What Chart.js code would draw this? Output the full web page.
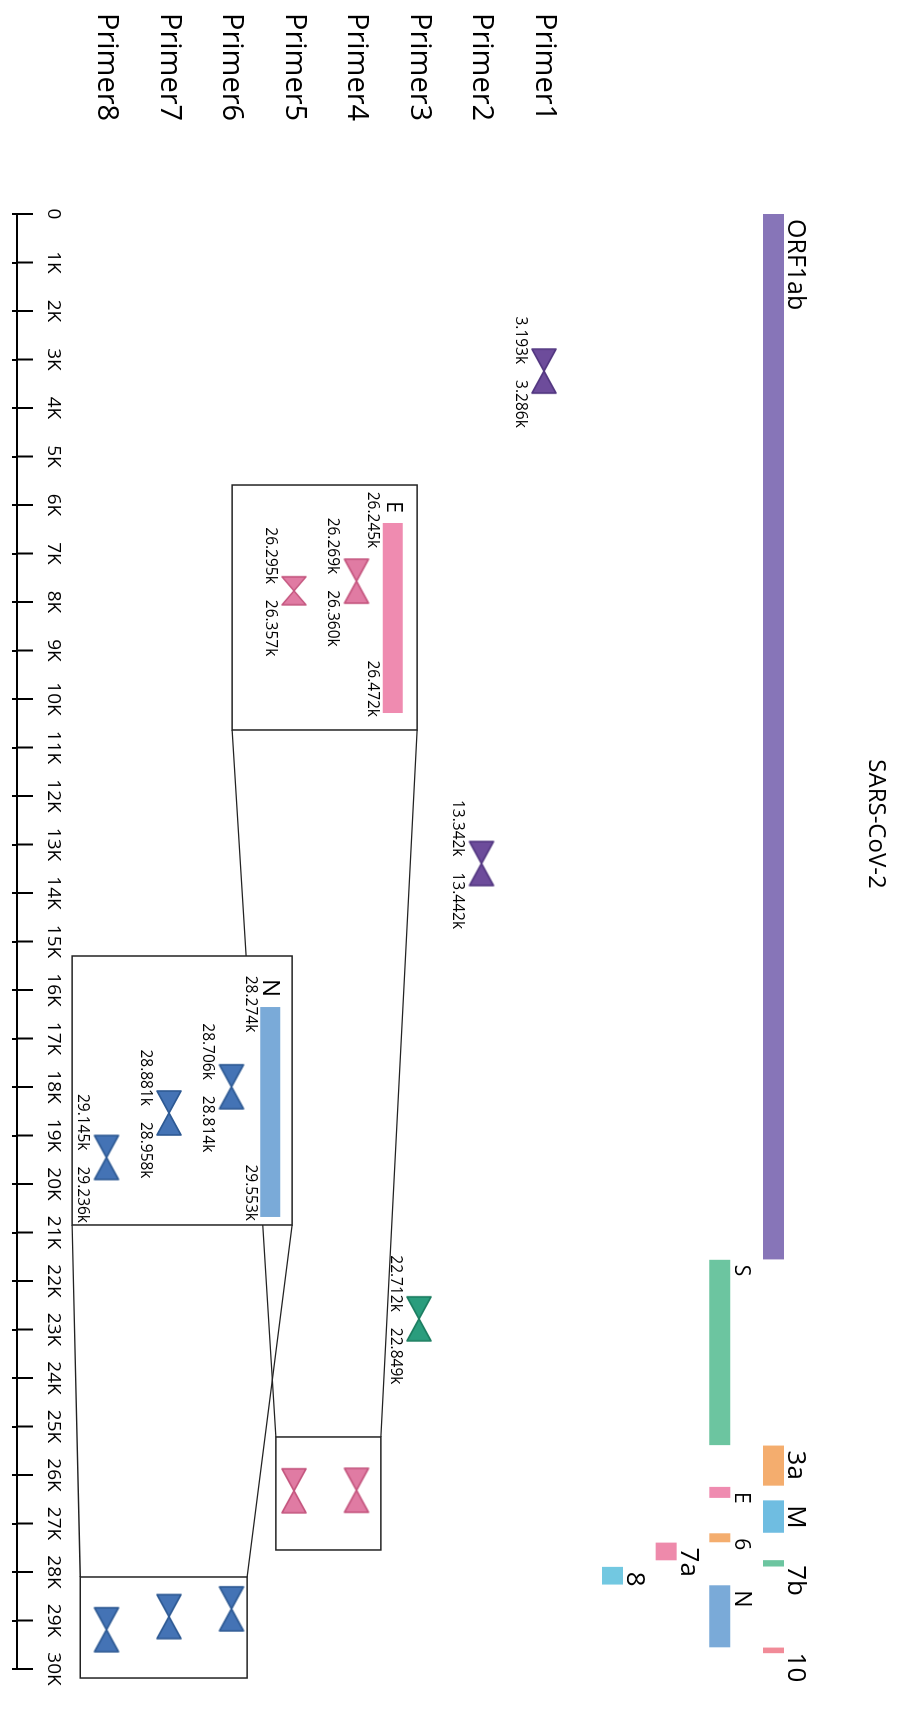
<!DOCTYPE html>
<html>
<head>
<meta charset="utf-8">
<title>SARS-CoV-2 primers</title>
<script src="https://cdn.jsdelivr.net/npm/chart.js@4.4.1/dist/chart.umd.min.js"></script>
<style>
  html, body { margin: 0; padding: 0; background: #fff; overflow: hidden; }
  /* the chart is drawn landscape and turned a quarter clockwise */
  #wrap { position: absolute; left: 0; top: 0; width: 1709px; height: 898px;
          transform-origin: 0 0; transform: translateX(898px) rotate(90deg); }
</style>
</head>
<body>
<div id="wrap"><canvas id="genome" width="1709" height="898"></canvas></div>
<script>
const chartTitle = "SARS-CoV-2";

// genome axis
const axisMin = 0;
const axisMax = 30000;
const tickStep = 1000;

// genes
const geneNames = ["ORF1ab", "S", "3a", "E", "M", "6", "7a", "7b", "8", "N", "10"];
const geneStart = [0, 21563, 25393, 26245, 26523, 27202, 27394, 27756, 27894, 28274, 29558];
const geneEnd   = [21555, 25384, 26220, 26472, 27191, 27387, 27759, 27887, 28259, 29553, 29674];
const geneLane  = [0, 1, 0, 1, 0, 1, 2, 0, 3, 1, 0];

// primers
const primerNames  = ["Primer1", "Primer2", "Primer3", "Primer4", "Primer5", "Primer6", "Primer7", "Primer8"];
const primerFwd    = [3193, 13342, 22712, 26269, 26295, 28706, 28881, 29145];
const primerRev    = [3286, 13442, 22849, 26360, 26357, 28814, 28958, 29236];
const primerTarget = ["ORF1ab", "ORF1ab", "S", "E", "E", "N", "N", "N"];

// genes blown up in a box
const insetGenes = ["E", "N"];

// ---- styles and layout ----
const FONT = "'Open Sans', 'DejaVu Sans', sans-serif";
const geneColors = ["#8775b8", "#6cc5a0", "#f4ad6e", "#ef8bb0", "#6fbde1", "#f4ad6e",
                    "#ee8aab", "#6cc5a0", "#72c8e1", "#7aaad8", "#f18b98"];
const geneFont = [25, 21, 26, 21, 26, 21, 26, 26, 26, 23, 26];
const markerFill = { ORF1ab: "#6d4c9b", S: "#2a9d7d", E: "#e07ba3", N: "#4473b5" };
const markerEdge = { ORF1ab: "#523680", S: "#1b7d60", E: "#c4557e", N: "#2d5993" };
const insetMarkerW = { Primer5: 28 };

// box = [from, to] on the genome axis and [top, bottom] in primer rows
const insetLayout = {
  E: { box: [5588, 10639, 3.03, 5.99], zoom: [25216, 27546, 3.61, 5.29], anchor: [6371, 10289], row: 3.42, font: 21 },
  N: { box: [15299, 20845, 5.03, 8.55], zoom: [28103, 30186, 5.75, 8.42], anchor: [16351, 20680], row: 5.38, font: 24 }
};

function kLabel(v) {
  return (v / 1000).toFixed(3) + "k";
}

function bowtie(fill, edge, w, h) {
  const c = document.createElement("canvas");
  c.width = w + 4;
  c.height = h + 4;
  const g = c.getContext("2d");
  const cx = c.width / 2, cy = c.height / 2;
  g.fillStyle = fill;
  g.strokeStyle = edge;
  g.lineWidth = 1.6;
  g.lineJoin = "round";
  [[2, 2 + h], [2 + w, 2 + h]].forEach(([bx, by]) => {
    g.beginPath();
    g.moveTo(bx, 2);
    g.lineTo(bx, by);
    g.lineTo(cx, cy);
    g.closePath();
    g.fill();
    g.stroke();
  });
  return c;
}

// inset axis range so that the gene span lands on its anchor positions
function insetRange(g0, g1, a0, a1) {
  const k = (a1 - a0) / (g1 - g0);
  return { min: g0 - (a0 - axisMin) / k, max: g0 + (axisMax - a0) / k };
}

function noPadding(s) {
  s.paddingTop = 0;
  s.paddingBottom = 0;
  s.paddingLeft = 0;
  s.paddingRight = 0;
}

const datasets = [];

// gene bars
geneNames.forEach((g, i) => {
  datasets.push({
    label: g,
    showLine: true,
    clip: false,
    data: [{ x: geneStart[i], y: geneLane[i] }, { x: geneEnd[i], y: geneLane[i] }],
    borderColor: geneColors[i],
    borderWidth: 21,
    borderCapStyle: "butt",
    pointRadius: 0,
    xAxisID: "x",
    yAxisID: "yGene"
  });
});

// primer pairs on the genome axis
datasets.push({
  label: "primers",
  clip: false,
  data: primerNames.map((p, i) => ({ x: (primerFwd[i] + primerRev[i]) / 2, y: i + 1 })),
  pointStyle: primerTarget.map(t => bowtie(markerFill[t], markerEdge[t], 44, 24)),
  pointRadius: 10,
  xAxisID: "x",
  yAxisID: "y"
});

const scales = {
  x: {
    type: "linear",
    position: "bottom",
    min: axisMin,
    max: axisMax,
    afterFit: s => { s.height = 17; noPadding(s); },
    afterBuildTicks: s => {
      s.ticks = [];
      for (let v = axisMin; v <= axisMax; v += tickStep) s.ticks.push({ value: v });
    },
    ticks: {
      mirror: true,
      padding: 25,
      color: "#000",
      maxRotation: 0,
      autoSkip: false,
      font: { family: FONT, size: 19 },
      callback: v => (v === 0 ? "0" : v / 1000 + "K")
    },
    grid: { display: true, drawOnChartArea: false, drawTicks: true, tickLength: 5, color: "#000", lineWidth: 2 },
    border: { display: true, color: "#000", width: 2 }
  },
  y: {
    type: "linear",
    position: "left",
    reverse: true,
    min: -4.664,
    max: 9.432,
    afterFit: s => { s.width = 201; noPadding(s); },
    afterBuildTicks: s => { s.ticks = primerNames.map((n, i) => ({ value: i + 1 })); },
    ticks: {
      crossAlign: "far",
      padding: 0,
      color: "#000",
      font: { family: FONT, size: 29 },
      callback: v => primerNames[v - 1]
    },
    grid: { display: false },
    border: { display: false }
  },
  yGene: { type: "linear", display: false, reverse: true, min: -2.32, max: 14.096 }
};

// inset bars and markers, each on its own hidden genome axis
insetGenes.forEach(g => {
  const gi = geneNames.indexOf(g);
  const L = insetLayout[g];
  const r = insetRange(geneStart[gi], geneEnd[gi], L.anchor[0], L.anchor[1]);
  scales["x" + g] = { type: "linear", display: false, min: r.min, max: r.max };

  datasets.push({
    label: g + " inset",
    showLine: true,
    clip: false,
    data: [{ x: geneStart[gi], y: L.row }, { x: geneEnd[gi], y: L.row }],
    borderColor: geneColors[gi],
    borderWidth: 20,
    borderCapStyle: "butt",
    pointRadius: 0,
    xAxisID: "x" + g,
    yAxisID: "y"
  });

  const idx = primerTarget.map((t, i) => (t === g ? i : -1)).filter(i => i >= 0);
  datasets.push({
    label: g + " primers",
    clip: false,
    data: idx.map(i => ({ x: (primerFwd[i] + primerRev[i]) / 2, y: i + 1 })),
    pointStyle: idx.map(i => bowtie(markerFill[g], markerEdge[g], insetMarkerW[primerNames[i]] || 44, 24)),
    pointRadius: 10,
    xAxisID: "x" + g,
    yAxisID: "y"
  });
});

function drawPairLabels(ctx, xs, y, i) {
  const px = xs.getPixelForValue((primerFwd[i] + primerRev[i]) / 2);
  const py = y.getPixelForValue(i + 1) + 24;
  ctx.textAlign = "right";
  ctx.fillText(kLabel(primerFwd[i]), px - 7, py);
  ctx.textAlign = "left";
  ctx.fillText(kLabel(primerRev[i]), px + 9, py);
}

const annotations = {
  id: "annotations",
  beforeDatasetsDraw(chart) {
    const { ctx, scales: { x, y } } = chart;
    ctx.save();
    ctx.strokeStyle = "#222";
    ctx.lineWidth = 1.5;
    // connector lines from each box to the region it blows up
    insetGenes.forEach(g => {
      const L = insetLayout[g];
      const bx = x.getPixelForValue(L.box[1]);
      const zx = x.getPixelForValue(L.zoom[0]);
      [[L.box[2], L.zoom[2]], [L.box[3], L.zoom[3]]].forEach(([a, b]) => {
        ctx.beginPath();
        ctx.moveTo(bx, y.getPixelForValue(a));
        ctx.lineTo(zx, y.getPixelForValue(b));
        ctx.stroke();
      });
    });
    insetGenes.forEach(g => {
      [insetLayout[g].box, insetLayout[g].zoom].forEach(r => {
        const x0 = x.getPixelForValue(r[0]), x1 = x.getPixelForValue(r[1]);
        const y0 = y.getPixelForValue(r[2]), y1 = y.getPixelForValue(r[3]);
        ctx.fillStyle = "#fff";
        ctx.fillRect(x0, y0, x1 - x0, y1 - y0);
        ctx.strokeRect(x0, y0, x1 - x0, y1 - y0);
      });
    });
    ctx.restore();
  },
  afterDatasetsDraw(chart) {
    const { ctx, scales } = chart;
    const x = scales.x, y = scales.y, yg = scales.yGene;
    ctx.save();
    ctx.fillStyle = "#000";

    ctx.font = "24px " + FONT;
    ctx.textAlign = "center";
    ctx.textBaseline = "middle";
    ctx.fillText(chartTitle, 824, 22);

    // tick marks also reach up from the axis line
    ctx.strokeStyle = "#000";
    ctx.lineWidth = 2;
    x.ticks.forEach(t => {
      const px = x.getPixelForValue(t.value);
      ctx.beginPath();
      ctx.moveTo(px, x.top);
      ctx.lineTo(px, x.top - 16);
      ctx.stroke();
    });

    // gene names above their bars
    ctx.textAlign = "left";
    ctx.textBaseline = "alphabetic";
    geneNames.forEach((g, i) => {
      ctx.font = geneFont[i] + "px " + FONT;
      ctx.fillText(g, x.getPixelForValue(geneStart[i]) + 5, yg.getPixelForValue(geneLane[i]) - 15);
    });

    // positions of primers outside the boxes
    ctx.font = "15.5px " + FONT;
    ctx.textBaseline = "middle";
    primerNames.forEach((p, i) => {
      if (!insetGenes.includes(primerTarget[i])) drawPairLabels(ctx, x, y, i);
    });

    // box contents
    insetGenes.forEach(g => {
      const gi = geneNames.indexOf(g);
      const L = insetLayout[g];
      const xs = scales["x" + g];
      const s = xs.getPixelForValue(geneStart[gi]);
      const e = xs.getPixelForValue(geneEnd[gi]);
      const by = y.getPixelForValue(L.row);
      ctx.font = L.font + "px " + FONT;
      ctx.textAlign = "right";
      ctx.fillText(g, s - 10, by);
      ctx.font = "15.5px " + FONT;
      ctx.textAlign = "center";
      ctx.fillText(kLabel(geneStart[gi]), s - 3, by + 20);
      ctx.textAlign = "right";
      ctx.fillText(kLabel(geneEnd[gi]), e + 4, by + 20);
      primerTarget.forEach((t, i) => { if (t === g) drawPairLabels(ctx, xs, y, i); });
    });
    ctx.restore();
  }
};

new Chart(document.getElementById("genome"), {
  type: "scatter",
  data: { datasets: datasets },
  options: {
    responsive: false,
    devicePixelRatio: 1,
    animation: false,
    events: [],
    layout: { autoPadding: false, padding: { left: 13, right: 40, top: 0, bottom: 0 } },
    scales: scales,
    plugins: {
      legend: { display: false },
      tooltip: { enabled: false },
      title: { display: false }
    }
  },
  plugins: [annotations]
});
</script>
</body>
</html>
